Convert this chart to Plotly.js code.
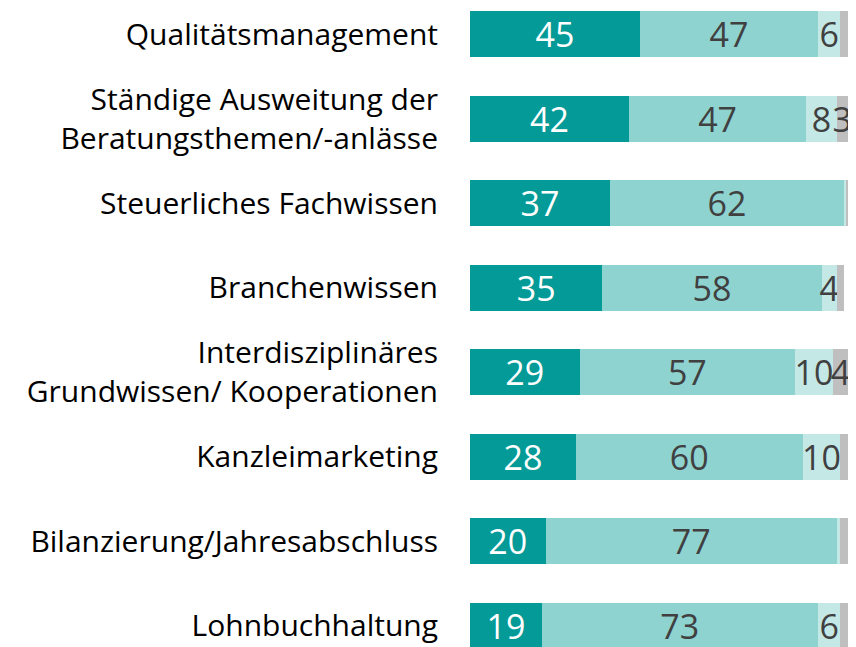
<!DOCTYPE html>
<html>
<head>
<meta charset="utf-8">
<script src="https://cdn.plot.ly/plotly-3.0.1.min.js"></script>
<style>html,body{margin:0;padding:0;background:#fff;}#chart{width:856px;height:647px;}</style>
</head>
<body>
<div id="chart"></div>
<script>
const categories = [
  "Qualitätsmanagement",
  "Ständige Ausweitung der<br>Beratungsthemen/-anlässe",
  "Steuerliches Fachwissen",
  "Branchenwissen",
  "Interdisziplinäres<br>Grundwissen/ Kooperationen",
  "Kanzleimarketing",
  "Bilanzierung/Jahresabschluss",
  "Lohnbuchhaltung"
];
const seriesA = [45, 42, 37, 35, 29, 28, 20, 19];
const seriesB = [47, 47, 62, 58, 57, 60, 77, 73];
const seriesC = [6, 8, 0.5, 4, 10, 10, 1, 6];
const seriesD = [2, 3, 1, 2, 4, 2, 2, 2];

const colors = ["#039A97", "#8ED3D0", "#C4E8E6", "#BFBFBF"];
const textColors = ["#FFFFFF", "#404040", "#404040", "#404040"];
const FONT = "'Segoe UI', 'Open Sans', 'Noto Sans', sans-serif";

const series = [seriesA, seriesB, seriesC, seriesD];
const traces = series.map((vals, i) => ({
  type: "bar",
  orientation: "h",
  y: categories,
  x: vals,
  text: vals.map(v => v >= 3 ? String(Math.round(v)) : ""),
  textposition: "inside",
  insidetextanchor: "middle",
  textangle: 0,
  textfont: {family: FONT, size: 34, color: textColors[i]},
  marker: {color: colors[i], line: {width: 0}},
  hoverinfo: "skip",
  showlegend: false
}));

const layout = {
  width: 856,
  height: 647,
  margin: {l: 470, r: 8, t: 0, b: 0, pad: 0},
  paper_bgcolor: "#ffffff",
  plot_bgcolor: "#ffffff",
  barmode: "stack",
  bargap: 0.456,
  uniformtext: {mode: "show", minsize: 34},
  xaxis: {range: [0, 100], visible: false, fixedrange: true},
  yaxis: {
    type: "category",
    range: [7.249, -0.408],
    showgrid: false, zeroline: false, showline: false,
    ticks: "",
    ticklabelstandoff: 31,
    tickfont: {family: FONT, size: 30, color: "#000000"},
    fixedrange: true
  },
  font: {family: FONT}
};

Plotly.newPlot("chart", traces, layout, {displayModeBar: false, staticPlot: true});
</script>
</body>
</html>
